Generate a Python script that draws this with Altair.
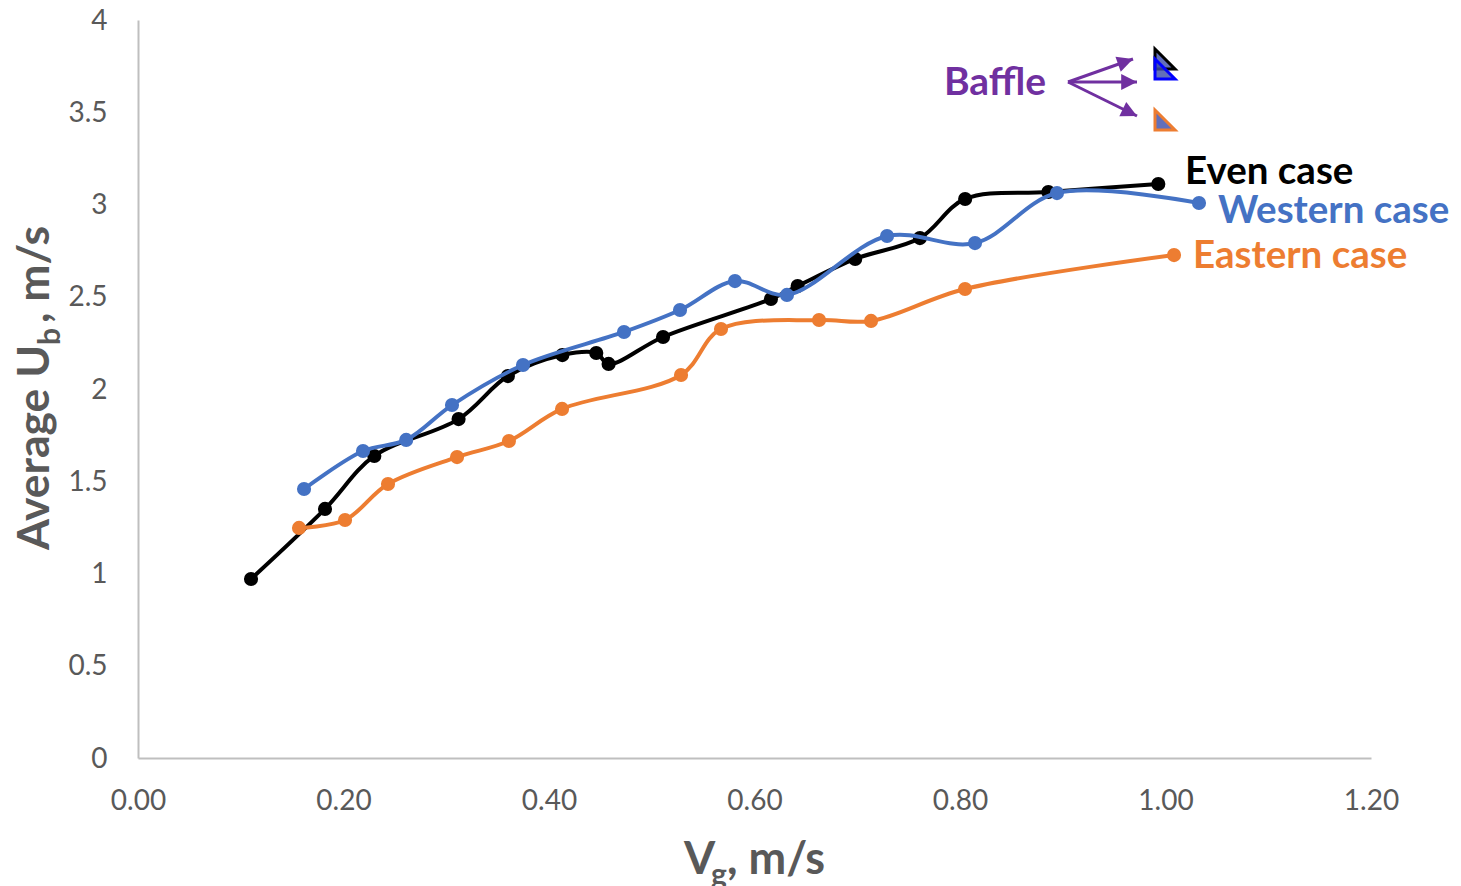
import altair as alt
import pandas as pd

FONT = "Lato"
GREY = "#595959"
BLACK, BLUE, ORANGE, PURPLE = "#000000", "#4472c4", "#ed7d31", "#7030a0"

even_x = [0.110, 0.182, 0.230, 0.312, 0.360, 0.413, 0.446, 0.458, 0.511, 0.616, 0.642, 0.698, 0.761, 0.805, 0.886, 0.993]
even_y = [0.970, 1.350, 1.637, 1.837, 2.070, 2.184, 2.195, 2.136, 2.282, 2.488, 2.558, 2.705, 2.818, 3.030, 3.068, 3.111]
west_x = [0.1616, 0.219, 0.261, 0.3056, 0.3747, 0.473, 0.5275, 0.581, 0.6316, 0.729, 0.8146, 0.8944, 1.0326]
west_y = [1.458, 1.664, 1.724, 1.913, 2.130, 2.309, 2.428, 2.585, 2.510, 2.829, 2.791, 3.062, 3.008]
east_x = [0.1567, 0.2015, 0.2433, 0.3105, 0.361, 0.4127, 0.5285, 0.5674, 0.6628, 0.7134, 0.8049, 1.0083]
east_y = [1.247, 1.290, 1.485, 1.631, 1.718, 1.892, 2.076, 2.325, 2.374, 2.369, 2.542, 2.726]

x_ticks = [0, 0.2, 0.4, 0.6, 0.8, 1.0, 1.2]
y_ticks = [0, 0.5, 1, 1.5, 2, 2.5, 3, 3.5, 4]

OX, OY = 138, 20
xs = alt.Scale(domain=[0, 1.2], nice=False, zero=False)
ys = alt.Scale(domain=[0, 4], nice=False, zero=False)


def series(xv, yv, color):
    df = pd.DataFrame({"x": xv, "y": yv})
    enc = dict(
        x=alt.X("x:Q", scale=xs, title=None,
                axis=alt.Axis(values=x_ticks, format=".2f", grid=False, ticks=False,
                              domainColor="#bfbfbf", domainWidth=2, labelColor=GREY,
                              labelFont=FONT, labelFontSize=28, labelPadding=29,
                              labelFlush=False, labelOverlap=False)),
        y=alt.Y("y:Q", scale=ys, title=None,
                axis=alt.Axis(values=y_ticks, format="~g", grid=False, ticks=False,
                              domainColor="#bfbfbf", domainWidth=2, labelColor=GREY,
                              labelFont=FONT, labelFontSize=28, labelPadding=31, labelOffset=1,
                              labelFlush=False, labelOverlap=False)),
    )
    line = alt.Chart(df).mark_line(color=color, strokeWidth=4, interpolate="catmull-rom").encode(**enc)
    pts = alt.Chart(df).mark_circle(color=color, size=200, opacity=1).encode(**enc)
    return [line, pts]


def text(s, px, py, size, color, angle=0, align="left", bold=True):
    return alt.Chart(pd.DataFrame({"t": [s]})).mark_text(
        font=FONT, fontSize=size, fontWeight="bold" if bold else "normal", color=color,
        align=align, baseline="alphabetic", angle=angle,
    ).encode(x=alt.value(px - OX), y=alt.value(py - OY), text="t:N")


def arrow(x0, y0, x1, y1, angle):
    rule = alt.Chart(pd.DataFrame({"a": [0]})).mark_rule(color=PURPLE, strokeWidth=3).encode(
        x=alt.value(x0 - OX), x2=alt.value(x1 - OX), y=alt.value(y0 - OY), y2=alt.value(y1 - OY))
    head = alt.Chart(pd.DataFrame({"a": [0]})).mark_point(
        shape="M0,0 L-1,-0.5 L-1,0.5 Z", filled=True, fill=PURPLE, stroke=PURPLE, strokeWidth=0,
        size=1000, angle=angle, opacity=1,
    ).encode(x=alt.value(x1 - OX), y=alt.value(y1 - OY))
    return [rule, head]


def baffle(px, py, stroke):
    return alt.Chart(pd.DataFrame({"a": [0]})).mark_point(
        shape="M-1,-1 L1,1 L-1,1 Z", filled=True, fill="#3b4ba8", fillOpacity=0.8,
        stroke=stroke, strokeWidth=3, size=400, opacity=1,
    ).encode(x=alt.value(px - OX), y=alt.value(py - OY))


layers = []
layers += series(even_x, even_y, BLACK)
layers += series(east_x, east_y, ORANGE)
layers += series(west_x, west_y, BLUE)
layers += [
    text("Even case", 1185, 184, 38.5, BLACK),
    text("Western case", 1218, 223, 38.5, BLUE),
    text("Eastern case", 1193, 268, 38.5, ORANGE),
    text("Baffle", 944, 95, 39, PURPLE),
    text("V", 684, 874, 45, GREY),
    text("g", 711, 885, 30, GREY),
    text(", m/s", 727, 874, 45, GREY),
    text("Average U", 49, 550, 44.5, GREY, angle=270),
    text("b", 60, 345, 30, GREY, angle=270),
    text(", m/s", 49, 323, 44.5, GREY, angle=270),
]
layers += arrow(1068, 82, 1133, 59, 340.5)
layers += arrow(1068, 82, 1137, 82, 0)
layers += arrow(1068, 82, 1137, 116, 26)
layers += [baffle(1165, 59, BLACK), baffle(1165, 69, "#0000ff"), baffle(1165, 120, ORANGE)]

chart = alt.layer(*layers).properties(
    width=1233, height=738,
    autosize=alt.AutoSizeParams(type="none"),
    padding={"left": 130, "top": 12, "right": 82, "bottom": 128},
).configure_view(stroke=None)

chart.save("out.html", embed_options={"renderer": "svg", "actions": False})
